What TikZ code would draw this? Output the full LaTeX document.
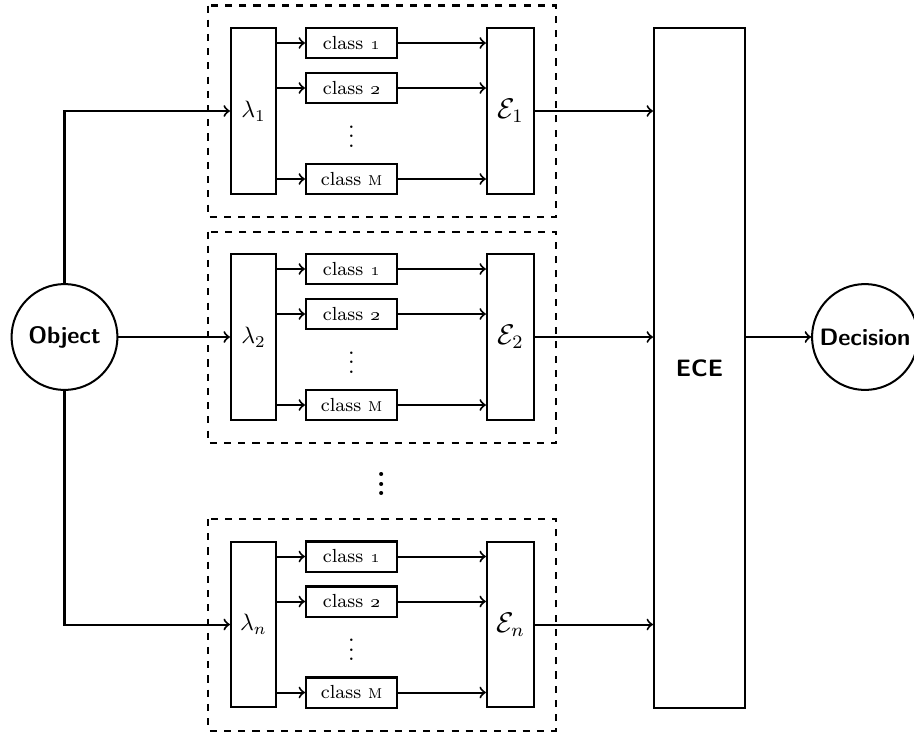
\documentclass[tikz,border=0pt]{standalone}
\usepackage{amsmath, amssymb}
\usetikzlibrary{arrows, positioning}
\begin{document}
\begin{tikzpicture}[x=1.483mm, y=-1.483mm,
		>=to,   %Voreinstellung für Pfeilspitzen
		line width=0.85pt,
		lambox/.style={draw, minimum width=6.7mm, minimum height=24.6mm, inner sep=0pt},
		ensbox/.style={draw, minimum width=7mm, minimum height=24.6mm, inner sep=0pt, font=\large},
		classbox/.style={draw, minimum width=13.5mm, minimum height=4.45mm, inner sep=0pt, font=\footnotesize},
		ecebox/.style={draw, minimum width=13.5mm, minimum height=100.8mm, inner sep=0pt, font=\sffamily\bfseries},
		roundnode/.style={draw, circle, minimum size=15.7mm, inner sep=0pt, font=\sffamily\bfseries}]
		%Bildbereich
		\useasboundingbox (0,0) rectangle (91.4,73.2);
		% Objekt, ECE und Entscheidung
		\node[roundnode] (obj) at (6.45,33.7) {Object};
		\node[ecebox] (ece) at (69.95,36.8) {ECE};
		\node[roundnode] (dec) at (86.5,33.7) {Decision};
		% Gruppen zeichnen
		\foreach \g/\y in {1/11.1, 2/33.7, n/62.45} {
			\draw[dashed] (20.8,\y-10.55) rectangle (55.6,\y+10.6);
			\node[lambox] (lam\g) at (25.35,\y) {$\lambda_\g$};
			\node[ensbox] (E\g) at (51.05,\y) {$\mathcal{E}_\g$};
			\node[classbox] (ca\g) at (35.15,\y-6.8) {class \oldstylenums{1}};
			\node[classbox] (cb\g) at (35.15,\y-2.3) {class \oldstylenums{2}};
			\node[classbox] (cm\g) at (35.15,\y+6.8) {class \textsc{m}};
			\node[anchor=base, inner sep=0pt] (dots\g) at (35.15,\y+3.6) {$\vdots$};
			\foreach \c in {ca,cb,cm} {
				\draw[->] (lam\g.east |- \c\g) -- (\c\g.west);
				\draw[->] (\c\g.east) -- (\c\g -| E\g.west);
			}
			\draw[->] (E\g.east) -- (E\g -| ece.west);
		}
		% Pünktchen zwischen den Gruppen
		\node[anchor=base, inner sep=0pt] (vdots) at (38.2,49.55) {\huge$\vdots$};
		% Verbindungen
		\draw[->] (obj.north) |- (lam1.west);
		\draw[->] (obj) -- (lam2);
		\draw[->] (obj.south) |- (lamn.west);
		\draw[->] (ece.east |- dec) -- (dec);
	\end{tikzpicture}
\end{document}
